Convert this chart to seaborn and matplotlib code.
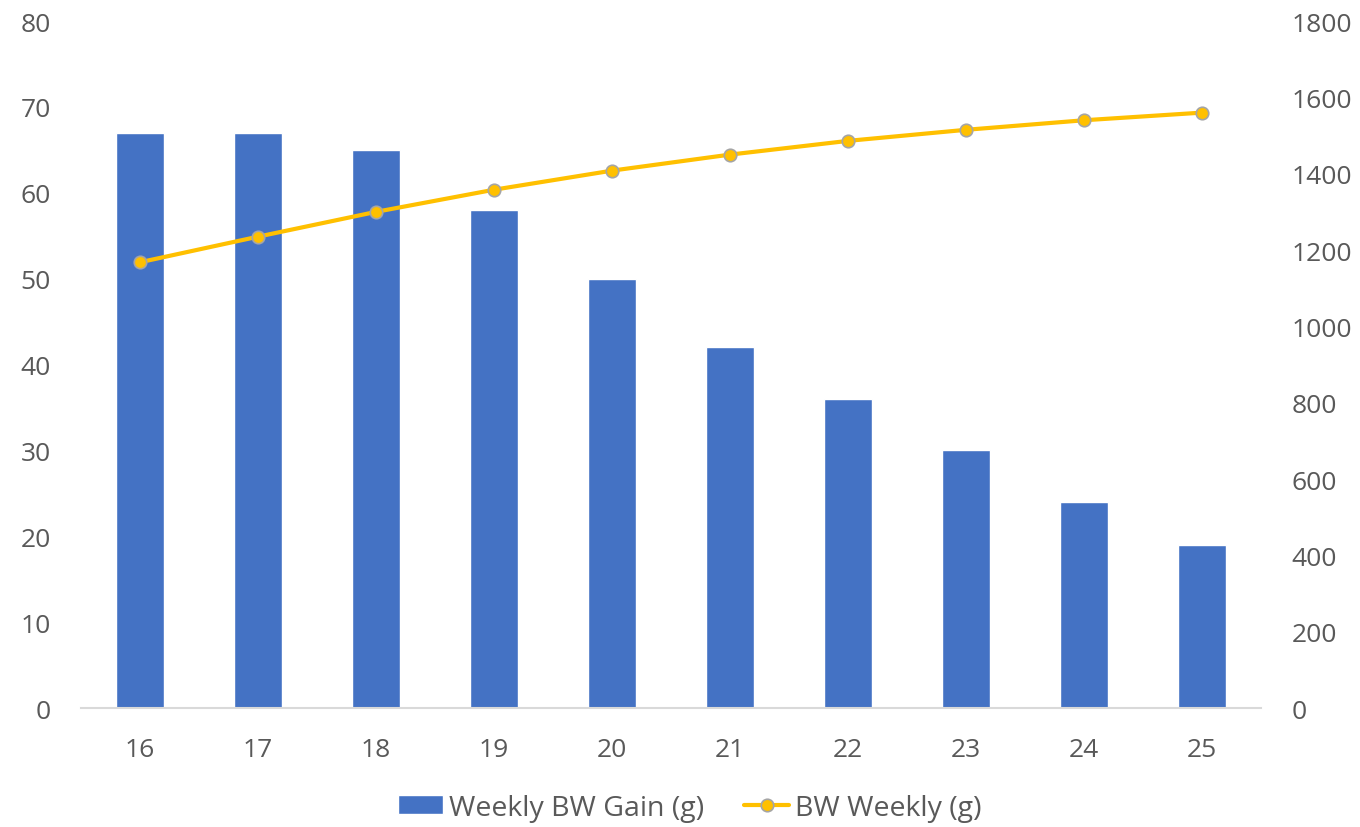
import numpy as np
import pandas as pd
import matplotlib
matplotlib.use("Agg")
import matplotlib.pyplot as plt
import seaborn as sns

# Week of age and body-weight data
weeks = ["16", "17", "18", "19", "20", "21", "22", "23", "24", "25"]
weekly_gain = [67, 67, 65, 58, 50, 42, 36, 30, 24, 19]
bw_weekly = [1168, 1235, 1300, 1358, 1408, 1450, 1486, 1515, 1540, 1560]

left_ticks = [0, 10, 20, 30, 40, 50, 60, 70, 80]
right_ticks = [0, 200, 400, 600, 800, 1000, 1200, 1400, 1600, 1800]

BAR_COLOR = "#4472C4"
LINE_COLOR = "#FFC000"
TEXT_COLOR = "#595959"
AXIS_COLOR = "#D9D9D9"

sns.set_theme(style="white")
plt.rcParams["font.family"] = ["Open Sans", "DejaVu Sans"]
FS = 19
LEG_FS = 20.5

df = pd.DataFrame({"week": weeks, "gain": weekly_gain, "bw": bw_weekly,
                   "pos": np.arange(len(weeks))})

fig = plt.figure(figsize=(13.6, 8.28), dpi=100)
ax = fig.add_axes([0.0596, 0.1437, 0.8676, 0.8297])

sns.barplot(data=df, x="week", y="gain", order=weeks, color=BAR_COLOR,
            saturation=1, width=0.4, ax=ax, label="Weekly BW Gain (g)")
if ax.get_legend() is not None:
    ax.get_legend().remove()

ax2 = ax.twinx()
sns.lineplot(data=df, x="pos", y="bw", ax=ax2, color=LINE_COLOR, linewidth=3,
             marker="o", markersize=9, markerfacecolor=LINE_COLOR,
             markeredgecolor="#A5A5A5", markeredgewidth=1.2,
             label="BW Weekly (g)", legend=False)

ax.set_xlim(-0.5, len(weeks) - 0.5)
ax.set_ylim(0, 80)
ax2.set_ylim(0, 1800)
ax.set_yticks(left_ticks)
ax2.set_yticks(right_ticks)
ax.set_xlabel("")
ax.set_ylabel("")
ax2.set_xlabel("")
ax2.set_ylabel("")

for a in (ax, ax2):
    for side in ("top", "left", "right", "bottom"):
        a.spines[side].set_visible(False)
    a.grid(False)
ax.spines["bottom"].set_visible(True)
ax.spines["bottom"].set_color(AXIS_COLOR)
ax.spines["bottom"].set_linewidth(1.5)

ax.tick_params(axis="y", length=0, pad=22, labelsize=FS, labelcolor=TEXT_COLOR)
ax.tick_params(axis="x", length=0, pad=21, labelsize=FS, labelcolor=TEXT_COLOR)
ax2.tick_params(axis="y", length=0, pad=22, labelsize=FS, labelcolor=TEXT_COLOR)

# Combined legend centred on the figure, below the plot
h1, l1 = ax.get_legend_handles_labels()
h2, l2 = ax2.get_legend_handles_labels()
leg = fig.legend(h1 + h2, l1 + l2, loc="center",
                 bbox_to_anchor=(0.507, 0.023), ncol=2, frameon=False,
                 fontsize=LEG_FS, handlelength=1.6, handleheight=0.65,
                 handletextpad=0.2, columnspacing=1.4, labelcolor=TEXT_COLOR)

fig.savefig("out.png", dpi=100, facecolor="white")
